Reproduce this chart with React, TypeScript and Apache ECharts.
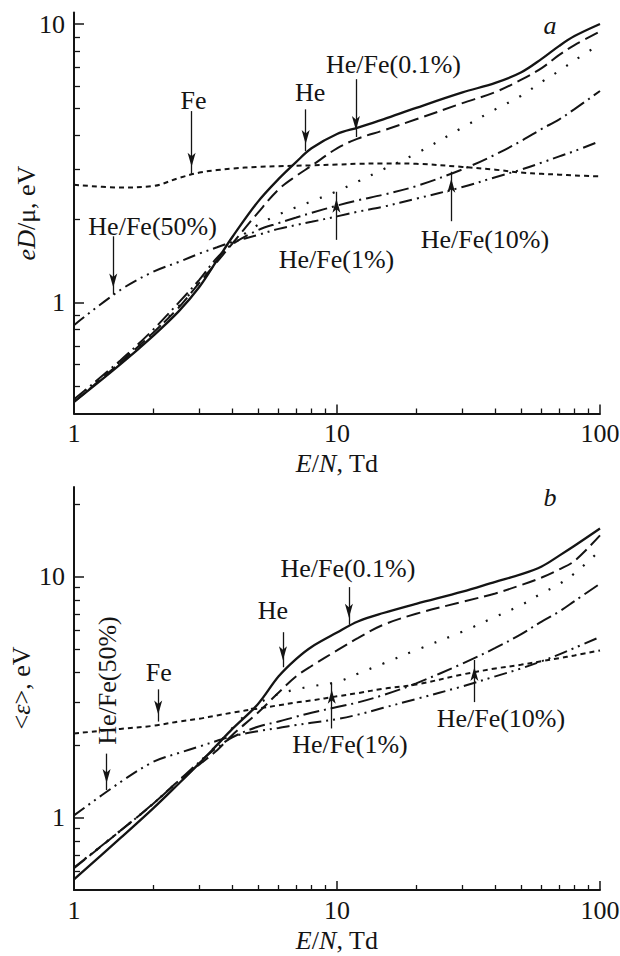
import React, { useEffect, useRef } from "react";
import * as echarts from "echarts";

const FONT = "'Liberation Serif', 'Times New Roman', Times, serif";
const INK = "#141414";

// E/N values (Td) shared by all curves
const xs = [1, 1.5, 2, 2.5, 3, 3.5, 4, 5, 6, 7, 8, 10, 12, 15, 20, 30, 40, 50, 60, 70, 80, 100];

// Panel a: eD/mu, eV
const aHe = [0.44, 0.6, 0.76, 0.93, 1.14, 1.42, 1.72, 2.3, 2.78, 3.2, 3.58, 4.03, 4.25, 4.55, 5.0, 5.68, 6.15, 6.7, 7.5, 8.35, 9.05, 10.0];
const aFe01 = [0.44, 0.61, 0.78, 0.96, 1.18, 1.4, 1.63, 2.1, 2.55, 2.85, 3.1, 3.58, 3.88, 4.15, 4.55, 5.2, 5.7, 6.3, 6.95, 7.75, 8.4, 9.4];
const aFe1 = [0.45, 0.61, 0.78, 0.97, 1.18, 1.42, 1.63, 1.9, 2.07, 2.2, 2.31, 2.51, 2.72, 3.01, 3.43, 4.25, 4.94, 5.52, 6.2, 6.79, 7.4, 8.47];
const aFe10 = [0.45, 0.62, 0.8, 1.0, 1.21, 1.45, 1.62, 1.82, 1.93, 2.02, 2.1, 2.23, 2.33, 2.44, 2.62, 3.01, 3.4, 3.8, 4.2, 4.55, 4.95, 5.75];
const aFe50 = [0.83, 1.11, 1.29, 1.4, 1.5, 1.58, 1.65, 1.75, 1.84, 1.9, 1.95, 2.04, 2.12, 2.21, 2.36, 2.6, 2.82, 3.0, 3.18, 3.35, 3.5, 3.8];
const aFe = [2.65, 2.59, 2.62, 2.8, 2.93, 2.99, 3.03, 3.07, 3.09, 3.1, 3.11, 3.13, 3.15, 3.16, 3.15, 3.07, 3.0, 2.93, 2.9, 2.88, 2.86, 2.84];

// Panel b: <eps>, eV
const bHe = [0.553, 0.82, 1.09, 1.38, 1.68, 2.0, 2.33, 2.95, 3.85, 4.55, 5.1, 5.85, 6.5, 7.05, 7.7, 8.65, 9.5, 10.2, 11.0, 12.2, 13.4, 15.8];
const bFe01 = [0.615, 0.88, 1.14, 1.42, 1.66, 1.9, 2.2, 2.72, 3.3, 3.85, 4.25, 4.93, 5.55, 6.3, 7.0, 7.85, 8.5, 9.2, 9.9, 10.7, 11.6, 14.8];
const bFe1 = [0.62, 0.88, 1.14, 1.42, 1.7, 2.0, 2.35, 2.95, 3.25, 3.4, 3.5, 3.65, 3.95, 4.35, 4.95, 5.9, 6.8, 7.6, 8.5, 9.3, 10.3, 12.8];
const bFe10 = [0.62, 0.88, 1.14, 1.42, 1.7, 1.95, 2.15, 2.38, 2.5, 2.62, 2.72, 2.87, 3.0, 3.22, 3.6, 4.35, 5.05, 5.75, 6.5, 7.15, 7.9, 9.33];
const bFe50 = [1.02, 1.4, 1.7, 1.85, 1.97, 2.08, 2.17, 2.28, 2.35, 2.42, 2.47, 2.56, 2.67, 2.85, 3.1, 3.5, 3.85, 4.15, 4.45, 4.75, 5.05, 5.61];
const bFe = [2.23, 2.33, 2.4, 2.5, 2.57, 2.65, 2.72, 2.83, 2.92, 3.0, 3.06, 3.18, 3.28, 3.42, 3.56, 3.92, 4.15, 4.3, 4.45, 4.58, 4.7, 4.93];

// Axis ticks
const xMajorTicks = [1, 10, 100];
const xMinorTicks = [2, 3, 4, 5, 6, 7, 8, 9, 20, 30, 40, 50, 60, 70, 80, 90];
const yMajorTicks = [1, 10];
const yMinorTicksA = [0.5, 0.6, 0.7, 0.8, 0.9, 2, 3, 4, 5, 6, 7, 8, 9];
const yMinorTicksB = [0.6, 0.7, 0.8, 0.9, 2, 3, 4, 5, 6, 7, 8, 9, 20];

// Axis titles
const xTitle = "{i|E}/{i|N}, Td";
const yTitleA = "{i|eD}/μ, eV";
const yTitleB = "<{i|ε}>, eV";

// Annotations: [x, y, text]
const labelsA: [number, number, string][] = [
  [2.85, 5.3, "Fe"],
  [7.9, 5.68, "He"],
  [16.4, 7.18, "He/Fe(0.1%)"],
  [1.99, 1.88, "He/Fe(50%)"],
  [9.95, 1.43, "He/Fe(1%)"],
  [36.5, 1.68, "He/Fe(10%)"],
];
// Arrows: [x, yFrom, yTip]
const arrowsA: [number, number, number][] = [
  [2.8, 4.87, 2.9],
  [7.6, 4.94, 3.5],
  [11.8, 6.34, 3.93],
  [1.41, 1.73, 1.07],
  [9.95, 1.68, 2.5],
  [27.2, 1.96, 2.95],
];
const labelsB: [number, number, string][] = [
  [11.0, 10.8, "He/Fe(0.1%)"],
  [5.7, 7.23, "He"],
  [2.1, 4.0, "Fe"],
  [11.2, 2.0, "He/Fe(1%)"],
  [42, 2.57, "He/Fe(10%)"],
];
const rotatedLabelB: [number, number, string] = [1.34, 3.7, "He/Fe(50%)"];
const arrowsB: [number, number, number][] = [
  [11.1, 9.03, 6.3],
  [6.23, 5.87, 4.2],
  [2.09, 3.4, 2.5],
  [1.33, 1.84, 1.3],
  [9.55, 2.34, 3.62],
  [33.3, 3.01, 4.5],
];

const seriesDefs = [
  { name: "He", type: "solid" as any, width: 2.3 },
  { name: "He/Fe(0.1%)", type: [14, 6], width: 2 },
  { name: "He/Fe(1%)", type: [2, 12], width: 2.2 },
  { name: "He/Fe(10%)", type: [16, 5, 2, 5], width: 2 },
  { name: "He/Fe(50%)", type: [13, 5, 2, 5, 2, 5], width: 2 },
  { name: "Fe", type: [5, 4], width: 2 },
];

const fmt = (v: number) => (v >= 1 ? String(Math.round(v)) : String(v));

const richI = { i: { fontStyle: "italic", fontFamily: FONT, fontSize: 26, fill: INK, color: INK } };

const nameStyle = {
  color: INK,
  fontFamily: FONT,
  fontSize: 26,
  rich: { i: { fontStyle: "italic", fontFamily: FONT, fontSize: 26, color: INK } },
};

function xAxes(gridIndex: number) {
  return [
    {
      type: "log",
      logBase: 10,
      gridIndex,
      min: 1,
      max: 100,
      position: "bottom",
      axisLine: { show: true, lineStyle: { color: INK, width: 2 } },
      axisTick: { show: true, inside: true, length: 9, lineStyle: { color: INK, width: 1.5 }, customValues: xMajorTicks },
      axisLabel: { show: true, customValues: xMajorTicks, formatter: fmt, color: INK, fontFamily: FONT, fontSize: 26, margin: 7 },
      splitLine: { show: false },
      minorTick: { show: false },
    },
    {
      type: "log",
      logBase: 10,
      gridIndex,
      min: 1,
      max: 100,
      position: "bottom",
      axisLine: { show: false },
      axisTick: { show: true, inside: true, length: 5, lineStyle: { color: INK, width: 1.3 }, customValues: xMinorTicks },
      axisLabel: { show: false },
      splitLine: { show: false },
      name: xTitle,
      nameLocation: "middle",
      nameGap: 37,
      nameTextStyle: nameStyle,
    },
  ];
}

function yAxes(gridIndex: number, min: number, max: number, minor: number[]) {
  return [
    {
      type: "log",
      logBase: 10,
      gridIndex,
      min,
      max,
      position: "left",
      axisLine: { show: true, lineStyle: { color: INK, width: 2 } },
      axisTick: { show: true, inside: true, length: 10, lineStyle: { color: INK, width: 1.5 }, customValues: yMajorTicks },
      axisLabel: { show: true, customValues: yMajorTicks, formatter: fmt, color: INK, fontFamily: FONT, fontSize: 26, margin: 9 },
      splitLine: { show: false },
      minorTick: { show: false },
    },
    {
      type: "log",
      logBase: 10,
      gridIndex,
      min,
      max,
      position: "left",
      axisLine: { show: false },
      axisTick: { show: true, inside: true, length: 6, lineStyle: { color: INK, width: 1.3 }, customValues: minor },
      axisLabel: { show: false },
      splitLine: { show: false },
    },
  ];
}

function panelSeries(
  axisIndex: number,
  curves: number[][],
  labels: [number, number, string][],
  arrows: [number, number, number][],
  letter: [number, number, string],
  rotated?: [number, number, string]
) {
  return curves.map((ys, k) => {
    const def = seriesDefs[k];
    const s: any = {
      type: "line",
      name: def.name,
      xAxisIndex: axisIndex,
      yAxisIndex: axisIndex,
      data: xs.map((x, i) => [x, ys[i]]),
      showSymbol: false,
      symbol: "none",
      smooth: 0.35,
      silent: true,
      lineStyle: { color: INK, width: def.width, type: def.type },
      z: 2,
    };
    if (k === 0) {
      const pts: any[] = labels.map(([x, y, t]) => ({
        name: t,
        coord: [x, y],
        label: { formatter: t },
      }));
      pts.push({
        name: letter[2],
        coord: [letter[0], letter[1]],
        label: { formatter: letter[2], fontStyle: "italic" },
      });
      if (rotated) {
        pts.push({
          name: rotated[2],
          coord: [rotated[0], rotated[1]],
          label: { formatter: rotated[2], rotate: 90 },
        });
      }
      s.markPoint = {
        silent: true,
        animation: false,
        symbol: "circle",
        symbolSize: 1,
        itemStyle: { color: "rgba(0,0,0,0)" },
        label: { show: true, position: "inside", color: INK, fontFamily: FONT, fontSize: 26 },
        data: pts,
      };
      s.markLine = {
        silent: true,
        animation: false,
        symbol: ["none", "arrow"],
        symbolSize: [0, 12],
        lineStyle: { color: INK, width: 1.3, type: "solid" },
        label: { show: false },
        emphasis: { disabled: true },
        data: arrows.map(([x, y1, y2]) => [
          { coord: [x, y1], symbol: "none" },
          { coord: [x, y2], symbol: "arrow", symbolSize: [6, 14], symbolOffset: [0, "50%"] },
        ]),
      };
    }
    return s;
  });
}

function yTitle(text: string, cx: number, cy: number) {
  return {
    type: "text",
    x: cx,
    y: cy,
    rotation: Math.PI / 2,
    silent: true,
    style: {
      text,
      fill: INK,
      font: `26px ${FONT}`,
      fontFamily: FONT,
      fontSize: 26,
      align: "center",
      verticalAlign: "middle",
      rich: richI,
    },
  };
}

export default function App() {
  const ref = useRef<HTMLDivElement>(null);
  useEffect(() => {
    document.body.style.margin = "0";
    if (!ref.current) return;
    const chart = echarts.init(ref.current, null, { renderer: "svg" });
    const option: any = {
      animation: false,
      backgroundColor: "#ffffff",
      textStyle: { fontFamily: FONT },
      grid: [
        { left: 74, width: 526, top: 12.5, height: 401, containLabel: false, outerBoundsMode: "none" },
        { left: 74, width: 526, top: 487, height: 403, containLabel: false, outerBoundsMode: "none" },
      ],
      xAxis: [...xAxes(0), ...xAxes(1)],
      yAxis: [...yAxes(0, 0.4, 11, yMinorTicksA), ...yAxes(1, 0.5, 23.5, yMinorTicksB)],
      graphic: [yTitle(yTitleA, 26, 213), yTitle(yTitleB, 21, 688)],
      series: [
        ...panelSeries(0, [aHe, aFe01, aFe1, aFe10, aFe50, aFe], labelsA, arrowsA, [64.6, 9.9, "a"]),
        ...panelSeries(2, [bHe, bFe01, bFe1, bFe10, bFe50, bFe], labelsB, arrowsB, [64.6, 21.3, "b"], rotatedLabelB),
      ],
    };
    chart.setOption(option);
    return () => chart.dispose();
  }, []);
  return <div ref={ref} style={{ width: 620, height: 956 }} />;
}
